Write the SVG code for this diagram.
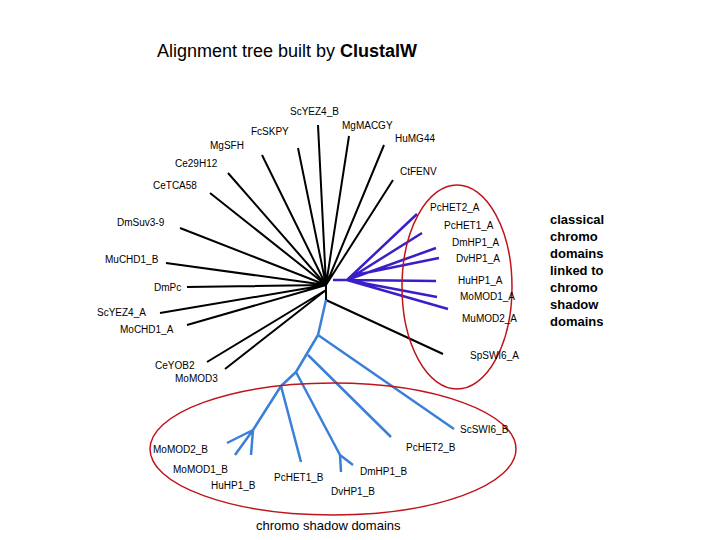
<svg xmlns="http://www.w3.org/2000/svg" width="720" height="540" viewBox="0 0 720 540">
<style>
text{font-family:"Liberation Sans",Arial,sans-serif;fill:#000}
.l{font-size:10px}
.k{stroke:#000;stroke-width:2;fill:none}
.p{stroke:#3a1fc8;stroke-width:2.5;fill:none}
.b{stroke:#3a7fd8;stroke-width:2.5;fill:none}
.e{stroke:#c0141c;stroke-width:1.5;fill:none}
.r{font-size:13px;font-weight:bold}
</style>
<rect width="720" height="540" fill="#fff"/>
<text x="157" y="57" font-size="18">Alignment tree built by <tspan font-weight="bold">ClustalW</tspan></text>
<g id="connectors">
<path class="k" d="M326 285L318 125M326 285L349 136M326 285L384 145M326 285L393 180M326 285L298 148M326 285L262 155M326 285L228 173M326 285L210 193M326 285L180 228M326 285L166 263M326 285L187 287M326 285L160 313M326 285L187 325M326 290L207 362M326 290L225 369M326 300L443 354M326 285L326 300"/>
<path class="p" d="M333 280L347 280M347 280L417 214M347 280L422 233M347 280L436 248M355 275L439 258M347 280L436 281M347 280L437 297M347 280L448 309"/>
<path class="b" d="M326 300L318 335M318 335L454 429M308 355L391 437M318 335L296 372M296 372L340 455M340 455L353 465M340 455L341 472M296 372L281 386M281 386L301 462M281 386L253 430M253 430L227 443M253 430L235 455M253 430L251 455"/>
<ellipse class="e" cx="457" cy="287" rx="55" ry="102"/>
<ellipse class="e" cx="333" cy="449" rx="183" ry="66"/>
</g>
<g id="labels">
<text class="l" x="290" y="115">ScYEZ4_B</text>
<text class="l" x="342" y="129">MgMACGY</text>
<text class="l" x="395" y="142">HuMG44</text>
<text class="l" x="400" y="175">CtFENV</text>
<text class="l" x="251" y="135">FcSKPY</text>
<text class="l" x="210" y="149">MgSFH</text>
<text class="l" x="175" y="167">Ce29H12</text>
<text class="l" x="153" y="189">CeTCA58</text>
<text class="l" x="117" y="226">DmSuv3-9</text>
<text class="l" x="105" y="263">MuCHD1_B</text>
<text class="l" x="154" y="291">DmPc</text>
<text class="l" x="97" y="316">ScYEZ4_A</text>
<text class="l" x="120" y="333">MoCHD1_A</text>
<text class="l" x="155" y="369">CeYOB2</text>
<text class="l" x="175" y="382">MoMOD3</text>
<text class="l" x="430" y="211">PcHET2_A</text>
<text class="l" x="444" y="229">PcHET1_A</text>
<text class="l" x="452" y="246">DmHP1_A</text>
<text class="l" x="456" y="262">DvHP1_A</text>
<text class="l" x="458" y="284">HuHP1_A</text>
<text class="l" x="460" y="300">MoMOD1_A</text>
<text class="l" x="462" y="322">MuMOD2_A</text>
<text class="l" x="470" y="359">SpSWI6_A</text>
<text class="l" x="460" y="433">ScSWI6_B</text>
<text class="l" x="406" y="451">PcHET2_B</text>
<text class="l" x="360" y="475">DmHP1_B</text>
<text class="l" x="331" y="495">DvHP1_B</text>
<text class="l" x="274" y="481">PcHET1_B</text>
<text class="l" x="153" y="453">MoMOD2_B</text>
<text class="l" x="173" y="473">MoMOD1_B</text>
<text class="l" x="211" y="489">HuHP1_B</text>
<text class="r" x="550" y="224">classical</text>
<text class="r" x="550" y="241">chromo</text>
<text class="r" x="550" y="258">domains</text>
<text class="r" x="550" y="275">linked to</text>
<text class="r" x="550" y="292">chromo</text>
<text class="r" x="550" y="309">shadow</text>
<text class="r" x="550" y="326">domains</text>
<text x="256" y="530" font-size="13">chromo shadow domains</text>
</g>
</svg>
